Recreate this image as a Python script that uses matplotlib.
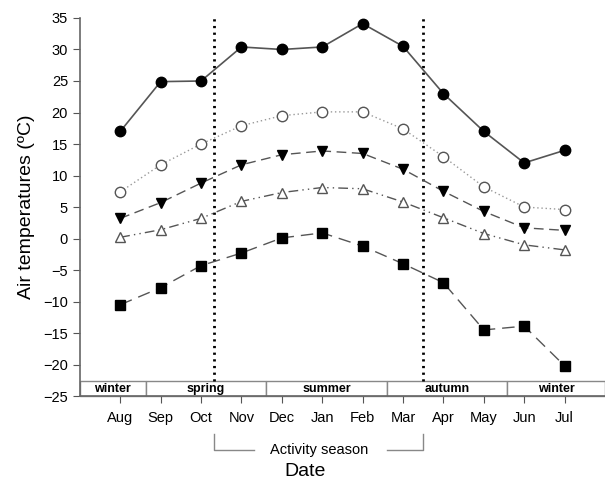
import numpy as np
import matplotlib.pyplot as plt
from matplotlib.patches import Rectangle

plt.rcParams['font.family'] = ['Liberation Sans', 'DejaVu Sans']

months = ['Aug', 'Sep', 'Oct', 'Nov', 'Dec', 'Jan', 'Feb', 'Mar', 'Apr', 'May', 'Jun', 'Jul']
t_max = [17, 24.9, 25, 30.4, 30, 30.4, 34.1, 30.5, 23, 17, 12, 14]
t_mean_max = [7.4, 11.7, 15.0, 17.9, 19.5, 20.1, 20.1, 17.4, 13.0, 8.2, 5.0, 4.6]
t_mean = [3.2, 5.7, 8.8, 11.7, 13.3, 13.9, 13.5, 11.0, 7.5, 4.3, 1.7, 1.3]
t_mean_min = [0.2, 1.4, 3.2, 5.9, 7.3, 8.1, 7.9, 5.8, 3.3, 0.8, -1.0, -1.8]
t_min = [-10.5, -7.8, -4.3, -2.3, 0.1, 0.9, -1.2, -4.0, -7.0, -14.5, -13.9, -20.2]

seasons = ['winter', 'spring', 'summer', 'autumn', 'winter']
season_edges = [-1, 0.63, 3.62, 6.6, 9.57, 12]
activity_start = 2.33
activity_end = 7.5

fig = plt.figure(figsize=(6.05, 4.86), dpi=100)
ax = fig.add_axes([0.132, 0.185, 0.868, 0.778])
x = np.arange(len(months))

lc = '#555555'
ax.plot(x, t_max, color=lc, lw=1.2, ls='-', marker='o', ms=7.5, mfc='black', mec='black', zorder=3)
ax.plot(x, t_mean_max, color='#999999', lw=1.0, ls=(0, (1, 2)), marker='o', ms=7.5, mfc='white', mec='#555555', zorder=3)
ax.plot(x, t_mean, color=lc, lw=1.0, ls=(0, (7, 4)), marker='v', ms=7.5, mfc='black', mec='black', zorder=3)
ax.plot(x, t_mean_min, color=lc, lw=1.0, ls=(0, (7, 3, 1, 3, 1, 3)), marker='^', ms=7.5, mfc='white', mec='#555555', zorder=3)
ax.plot(x, t_min, color=lc, lw=1.0, ls=(0, (9, 5)), marker='s', ms=6.5, mfc='black', mec='black', zorder=3)

band_top = -22.6
for xs in [activity_start, activity_end]:
    ax.plot([xs, xs], [band_top, 35], color='black', lw=2, ls=(0, (0.8, 1.6)), zorder=2)

for i, name in enumerate(seasons):
    a, b = season_edges[i], season_edges[i + 1]
    ax.add_patch(Rectangle((a, -25), b - a, band_top + 25, facecolor='white',
                           edgecolor='#888888', lw=1, zorder=1, clip_on=False))
    ax.text((a + b) / 2, -23.8, name, ha='center', va='center', fontsize=9, fontweight='bold', zorder=4)

ax.set_xlim(-1, 12)
ax.set_ylim(-25, 35)
ax.set_xticks(x)
ax.set_xticklabels(months, fontsize=10.5)
ax.set_yticks(np.arange(-25, 36, 5))
ax.tick_params(axis='y', labelsize=10.5, direction='out', length=5, color='#555555')
ax.tick_params(axis='x', direction='out', length=5, color='#555555', pad=6)
for s in ['top', 'right']:
    ax.spines[s].set_visible(False)
for s in ['left', 'bottom']:
    ax.spines[s].set_color('#666666')
    ax.spines[s].set_linewidth(1.2)

ax.set_ylabel('Air temperatures (ºC)', fontsize=14, labelpad=6)

# activity season bracket
y_top = -31.0
y_mid = -33.6
ax.plot([activity_start, activity_start, 3.3], [y_top, y_mid, y_mid], color='#888888', lw=1, clip_on=False)
ax.plot([6.6, activity_end, activity_end], [y_mid, y_mid, y_top], color='#888888', lw=1, clip_on=False)
ax.text((activity_start + activity_end) / 2, y_mid, 'Activity season', ha='center', va='center', fontsize=10.5)

fig.text(0.505, 0.03, 'Date', ha='center', va='center', fontsize=14)

fig.savefig('out.png', dpi=100)
